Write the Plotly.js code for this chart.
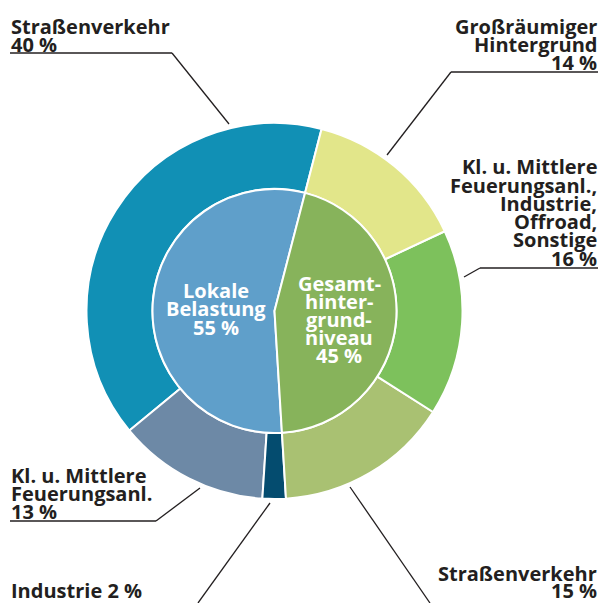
<!DOCTYPE html>
<html><head><meta charset="utf-8">
<script src="https://cdn.plot.ly/plotly-3.0.1.min.js"></script>
<style>html,body{margin:0;padding:0;background:#fff;}#chart{width:604px;height:603px;}</style>
</head><body><div id="chart"></div>
<script>
// ---- data ----
const innerLabels = ['Lokale Belastung', 'Gesamthintergrundniveau'];
const innerValues = [55, 45];
const outerLabels = ['Straßenverkehr (lokal)', 'Kl. u. Mittlere Feuerungsanl.', 'Industrie',
                     'Straßenverkehr (Hintergrund)', 'Kl. u. Mittlere Feuerungsanl., Industrie, Offroad, Sonstige',
                     'Großräumiger Hintergrund'];
const outerValues = [40, 13, 2, 15, 16, 14];
const innerText = [['Lokale', 'Belastung', '55 %'], ['Gesamt-', 'hinter-', 'grund-', 'niveau', '45 %']];
const outerText = [['Straßenverkehr', '40 %'], ['Kl. u. Mittlere', 'Feuerungsanl.', '13 %'], ['Industrie 2 %'],
                   ['Straßenverkehr', '15 %'], ['Kl. u. Mittlere', 'Feuerungsanl.,', 'Industrie,', 'Offroad,', 'Sonstige', '16 %'],
                   ['Großräumiger', 'Hintergrund', '14 %']];

// ---- styles / layout helpers ----
const W = 604, H = 603;
const innerColors = ['#5f9fca', '#87b35b'];
const outerColors = ['#1190b5', '#6d89a6', '#044c6f', '#a9c172', '#7dc15c', '#e2e68a'];
const txt = '#231f20';
const cx = 274.5, cy = 311, rOut = 188, rIn = 122;
const startAngle = 14.5; // first slice begins here (clockwise from 12 o'clock) and runs counterclockwise
const px = x => x / W, py = y => 1 - y / H;
const sum = a => a.reduce((s, v) => s + v, 0);
// Plotly places the first slice clockwise of `rotation` when direction is counterclockwise
const rot = vals => startAngle - vals[0] / sum(vals) * 360;

// label placement: [x, anchor, first baseline, line pitch]
const outerPos = [[10, 'left', 33.3, 18.4], [10, 'left', 482, 18], [10, 'left', 597.5, 18],
                  [598, 'right', 580, 17.5], [598, 'right', 174, 18.2], [598, 'right', 33, 18.5]];
const innerPos = [[216, 'center', 297, 18.5], [339, 'center', 290, 18]];
// leader lines / underlines in pixels
const leaders = [
  [[10, 53], [172, 53], [229, 124]],
  [[10, 521], [156, 521], [200, 488]],
  [[198, 603], [270, 503]],
  [[430, 603], [350, 487]],
  [[598, 268], [480, 268], [464, 277]],
  [[598, 72], [451, 72], [387, 155]]
];

const annotations = [];
function addLines(lines, pos, color) {
  const [x, anchor, base, pitch] = pos;
  lines.forEach((t, i) => {
    annotations.push({
      xref: 'paper', yref: 'paper', x: px(x), y: py(base + i * pitch - 7),
      xanchor: anchor, yanchor: 'middle', text: t, showarrow: false,
      font: {family: 'Open Sans', size: 20, color: color, weight: 700},
      borderpad: 0
    });
  });
}
outerText.forEach((l, i) => addLines(l, outerPos[i], txt));
innerText.forEach((l, i) => addLines(l, innerPos[i], '#ffffff'));

const shapes = [];
leaders.forEach(pts => {
  for (let i = 0; i < pts.length - 1; i++) {
    shapes.push({type: 'line', xref: 'paper', yref: 'paper',
      x0: px(pts[i][0]), y0: py(pts[i][1]), x1: px(pts[i + 1][0]), y1: py(pts[i + 1][1]),
      line: {color: txt, width: 1.3}});
  }
});

const traces = [
  {type: 'pie', labels: outerLabels, values: outerValues, sort: false, direction: 'counterclockwise',
   rotation: rot(outerValues), hole: rIn / rOut, textinfo: 'none', hoverinfo: 'skip',
   marker: {colors: outerColors, line: {color: '#ffffff', width: 2}},
   domain: {x: [px(cx - rOut), px(cx + rOut)], y: [py(cy + rOut), py(cy - rOut)]}},
  {type: 'pie', labels: innerLabels, values: innerValues, sort: false, direction: 'counterclockwise',
   rotation: rot(innerValues), textinfo: 'none', hoverinfo: 'skip',
   marker: {colors: innerColors, line: {color: '#ffffff', width: 2}},
   domain: {x: [px(cx - rIn), px(cx + rIn)], y: [py(cy + rIn), py(cy - rIn)]}}
];

Plotly.newPlot('chart', traces, {
  width: W, height: H, margin: {l: 0, r: 0, t: 0, b: 0},
  paper_bgcolor: '#ffffff', showlegend: false,
  annotations: annotations, shapes: shapes
}, {staticPlot: true});
</script></body></html>
